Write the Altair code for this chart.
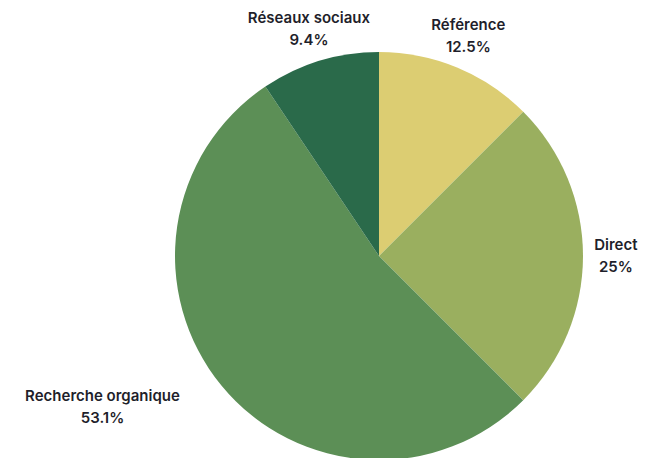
import altair as alt
import pandas as pd

labels = ["Référence", "Direct", "Recherche organique", "Réseaux sociaux"]
shares = [12.5, 25, 53.1, 9.4]
share_text = ["12.5%", "25%", "53.1%", "9.4%"]
colors = ["#DCCD72", "#9AAF5F", "#5C8F56", "#2A6A4A"]

df = pd.DataFrame({"label": labels, "share": shares, "pct": share_text,
                   "i": list(range(len(labels)))})

CX, CY, R = 371, 248, 204
OFF = R + 10
HH = 22

base = alt.Chart(df)

pie = base.mark_arc(radius=R).encode(
    theta=alt.Theta("share:Q", stack=True),
    color=alt.Color("label:N", scale=alt.Scale(domain=labels, range=colors), legend=None),
    order=alt.Order("i:Q"),
    x=alt.value(CX),
    y=alt.value(CY),
)

lab = base.transform_joinaggregate(total="sum(share)").transform_window(
    cum="sum(share)", sort=[alt.SortField("i")], frame=[None, 0]
).transform_calculate(
    a="(datum.cum - datum.share / 2) / datum.total * 2 * PI"
).transform_calculate(
    vx="sin(datum.a)", vy="-cos(datum.a)"
).transform_calculate(
    m="max(abs(datum.vx), abs(datum.vy))",
    hw="6.8 * length(datum.label) - 18",
).transform_calculate(
    px=f"{OFF} * datum.vx + datum.hw * datum.vx * abs(datum.vx) / (datum.m * datum.m)",
    py=f"{OFF} * datum.vy + {HH} * datum.vy * abs(datum.vy) / (datum.m * datum.m)",
).transform_calculate(
    lt="atan2(datum.px, -datum.py)",
    lr="sqrt(datum.px * datum.px + datum.py * datum.py)",
)

txt_style = dict(font="Inter", fontWeight=600, fontSize=15, color="#1f1f2b",
                 align="center", baseline="middle")

name_txt = lab.mark_text(dy=-11, **txt_style).encode(
    theta=alt.Theta("lt:Q", scale=None),
    radius=alt.Radius("lr:Q", scale=None),
    text="label:N",
    x=alt.value(CX),
    y=alt.value(CY),
)
pct_txt = lab.mark_text(dy=11, **txt_style).encode(
    theta=alt.Theta("lt:Q", scale=None),
    radius=alt.Radius("lr:Q", scale=None),
    text="pct:N",
    x=alt.value(CX),
    y=alt.value(CY),
)

chart = alt.layer(pie, name_txt, pct_txt).resolve_scale(theta="independent").properties(
    width=633, height=450, padding=0,
    autosize=alt.AutoSizeParams(type="none"),
).configure_view(stroke=None)

chart.save("out.html", embed_options={"renderer": "svg", "actions": False})
